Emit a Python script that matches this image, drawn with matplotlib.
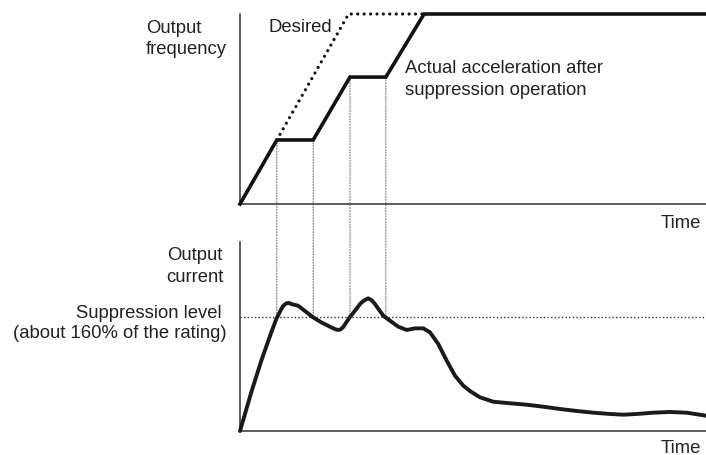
import matplotlib
matplotlib.use("Agg")
import matplotlib.pyplot as plt
from matplotlib.patches import ConnectionPatch

plt.rcParams['font.family'] = ['Liberation Sans', 'DejaVu Sans']

# time in arbitrary units (0..100 across the axis)
freq_t = [0, 7.9, 15.7, 23.6, 31.3, 39.5, 100]
freq_v = [0, 33.7, 33.7, 66.8, 66.8, 100, 100]   # % of max frequency

desired_t = [7.9, 23.3, 39.5]
desired_v = [33.7, 100, 100]

# output current, % of rating
cur_t = [0, 2.42, 4.57, 6.72, 7.79, 8.86, 9.33, 9.94, 10.5, 11.01, 12.45, 13.88,
         15.67, 17.45, 19.59, 20.4, 21.03, 21.6, 22.10, 23.54, 24.96, 25.75,
         26.6, 27.53, 28.3, 28.97, 30.75, 32.19, 33.97, 35.77, 37.55, 39.33,
         40.77, 42.55, 44.36, 46.14, 47.92, 49.36, 51.50, 54.36, 57.94, 61.52,
         65.09, 68.67, 72.25, 75.82, 79.40, 82.25, 85.13, 88.69, 92.27, 95.86, 100]
cur_v = [0, 54.3, 98.7, 138.5, 157.2, 171.2, 176.0, 179.2, 179.8, 178.2, 175.9, 168.8,
         159.6, 152.5, 145.5, 143.0, 141.8, 142.6, 145.5, 159.6, 171.2, 178.2,
         183.2, 186.2, 183.2, 178.2, 161.8, 154.8, 146.4, 141.8, 144.1, 144.1,
         138.5, 122.1, 98.7, 77.6, 63.6, 56.1, 47.3, 41.1, 38.9, 36.9,
         34.1, 30.9, 28.1, 25.7, 23.9, 22.9, 23.9, 25.7, 26.7, 25.7, 21.5]

suppression = 160
marker_t = [7.9, 15.7, 23.6, 31.3]
marker_f = [33.7, 33.7, 66.8, 66.8]

W, H = 706, 456
fig = plt.figure(figsize=(W / 100, H / 100), dpi=100)

ax1 = fig.add_axes([240 / W, (H - 205) / H, 466 / W, 190 / H])
ax2 = fig.add_axes([240 / W, (H - 432) / H, 466 / W, 189 / H])

axis_col = '#333333'
for ax in (ax1, ax2):
    ax.set_xlim(0, 100)
    ax.spines['top'].set_visible(False)
    ax.spines['right'].set_visible(False)
    for s in ('left', 'bottom'):
        ax.spines[s].set_color(axis_col)
        ax.spines[s].set_linewidth(1.1)
    ax.set_xticks([])
    ax.set_yticks([])
    ax.patch.set_alpha(0)

ax1.set_ylim(0, 100)
ax2.set_ylim(0, 265.3)

ax1.plot(freq_t, freq_v, color='#111111', lw=2.6, clip_on=False,
         solid_joinstyle='miter', zorder=3)
ax1.plot(desired_t, desired_v, color='#111111', lw=2.3, clip_on=False,
         linestyle=(0, (0.01, 2.0)), dash_capstyle='round', zorder=2)

ax2.plot(cur_t, cur_v, color='#1a1a1a', lw=2.8, clip_on=False,
         solid_capstyle='round', solid_joinstyle='round', zorder=3)
ax2.axhline(suppression, color=axis_col, lw=1.0, linestyle=(0, (1, 1.6)),
            clip_on=False, zorder=1)

for t, f in zip(marker_t, marker_f):
    con = ConnectionPatch(xyA=(t, f), coordsA=ax1.transData,
                          xyB=(t, suppression), coordsB=ax2.transData,
                          color='#777777', lw=0.8, linestyle=(0, (1, 1.5)),
                          zorder=0)
    fig.add_artist(con)

fs = 13.3
def ptext(x, y, s, **kw):
    fig.text(x / W, 1 - y / H, s, fontsize=fs, color='#222222',
             va='baseline', **kw)

ptext(146, 33, 'Output', ha='left')
ptext(146, 54, 'frequency', ha='left')
ptext(268, 32, 'Desired', ha='left')
ptext(405, 73, 'Actual acceleration after', ha='left')
ptext(405, 95, 'suppression operation', ha='left')
ptext(701, 228, 'Time', ha='right')
ptext(195, 260, 'Output', ha='center')
ptext(195, 282, 'current', ha='center')
ptext(222, 318, 'Suppression level', ha='right')
ptext(227, 338, '(about 160% of the rating)', ha='right')
ptext(701, 453, 'Time', ha='right')

fig.savefig('out.png', dpi=100)
